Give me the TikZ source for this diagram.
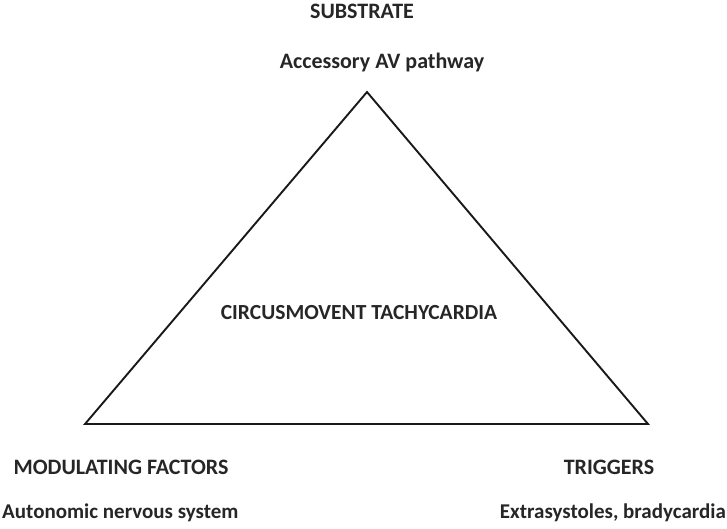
\documentclass[tikz,border=0pt]{standalone}
\usepackage{fontspec}
\setmainfont{Carlito}
\begin{document}
\begin{tikzpicture}[x=1pt,y=-1pt,
  lbl/.style={font=\fontsize{22}{26}\selectfont\bfseries, text=black!85, inner sep=0pt, anchor=center},
  small/.style={font=\fontsize{21}{25}\selectfont\bfseries},
  edge/.style={draw=black!90, line width=1.9pt, line join=miter}]
\useasboundingbox (0,0) rectangle (727,528);
\coordinate (top) at (367,92);
\coordinate (bl) at (85,424);
\coordinate (br) at (648,424);
\draw[edge] (top) -- (br) -- (bl) -- cycle;
\node[lbl] (sub) at (362,11) {SUBSTRATE};
\node[lbl] (subd) at (382,63) {Accessory AV pathway};
\node[lbl, font=\fontsize{21.5}{26}\selectfont\bfseries] (mid) at (359,313) {CIRCUSMOVENT TACHYCARDIA};
\node[lbl] (mod) at (121,467) {MODULATING FACTORS};
\node[lbl, small, anchor=west] (modd) at (2,513) {Autonomic nervous system};
\node[lbl] (trg) at (609,467) {TRIGGERS};
\node[lbl, small, anchor=east] (trgd) at (726,513) {Extrasystoles, bradycardia};
\end{tikzpicture}
\end{document}
